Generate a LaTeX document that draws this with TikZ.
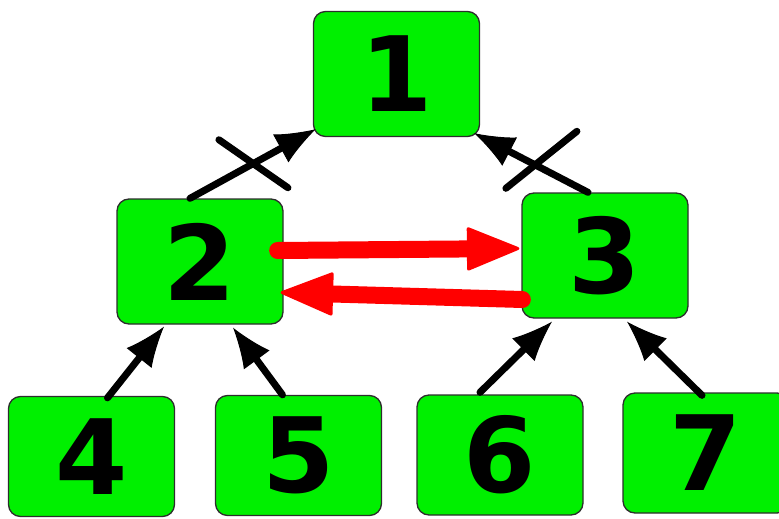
\documentclass[tikz,border=0pt]{standalone}
\usepackage{fontspec}
\setmainfont{DejaVu Sans}
\usetikzlibrary{arrows.meta,calc}
\definecolor{boxgreen}{RGB}{0,240,0}
\definecolor{boxedge}{RGB}{45,45,45}
\definecolor{sketchred}{RGB}{255,0,0}
\begin{document}
\begin{tikzpicture}[x=1pt,y=-1pt,
  numbox/.style={draw=boxedge, line width=1.3pt, fill=boxgreen, rounded corners=12pt,
    minimum width=166pt, minimum height=125pt, inner sep=0pt,
    font=\fontsize{104}{104}\selectfont\bfseries},
  leafbox/.style={numbox, minimum height=120pt},
  link/.style={line width=7pt, line cap=round, -{Latex[length=40pt,width=32pt,line width=1pt]}},
  crossmark/.style={line width=7pt, line cap=round},
  redarrow/.style={draw=sketchred, line width=17pt, line cap=round,
    -{Triangle[length=55pt,width=44pt,line width=3pt,round,fill=sketchred]}}]
\useasboundingbox (0,0) rectangle (779,519);
\clip (0,0) rectangle (779,519);

\node[numbox] (n1) at (396.5,74) {1};
\node[numbox] (n2) at (200,261.5) {2};
\node[numbox] (n3) at (605,255.5) {3};
\node[leafbox] (n4) at (91.5,456.5) {4};
\node[leafbox] (n5) at (298.5,455.5) {5};
\node[leafbox] (n6) at (500,455) {6};
\node[leafbox] (n7) at (706,453) {7};

% crossed-out links to the root
\draw[link] ($(n2.north)+(-10,0)$) -- ($(n1.south west)+(3,-8)$) coordinate[pos=0.5] (x1);
\draw[crossmark] ($(x1)+(-34,-24)$) -- ($(x1)+(35,24)$);
\draw[link] ($(n3.north)+(-17,0)$) -- ($(n1.south east)+(-6,-4)$) coordinate[pos=0.44] (x2);
\draw[crossmark] ($(x2)+(-32,22)$) -- ($(x2)+(39,-35)$);

% links from the leaves
\draw[link] ($(n4.north)+(16,2)$) -- ($(n2.south)+(-36,2)$);
\draw[link] ($(n5.north)+(-16,0)$) -- ($(n2.south)+(33,3)$);
\draw[link] ($(n6.north)+(-20,-2)$) -- ($(n3.south)+(-53,3)$);
\draw[link] ($(n7.north)+(-4,3)$) -- ($(n3.south)+(22,3)$);

% red links between siblings
\draw[redarrow] ($(n2.east)+(-6,-11)$) -- ($(n3.west)+(-2,-7)$);
\draw[redarrow] ($(n3.west)+(1,44)$) -- ($(n2.east)+(-3,31)$);
\end{tikzpicture}
\end{document}
